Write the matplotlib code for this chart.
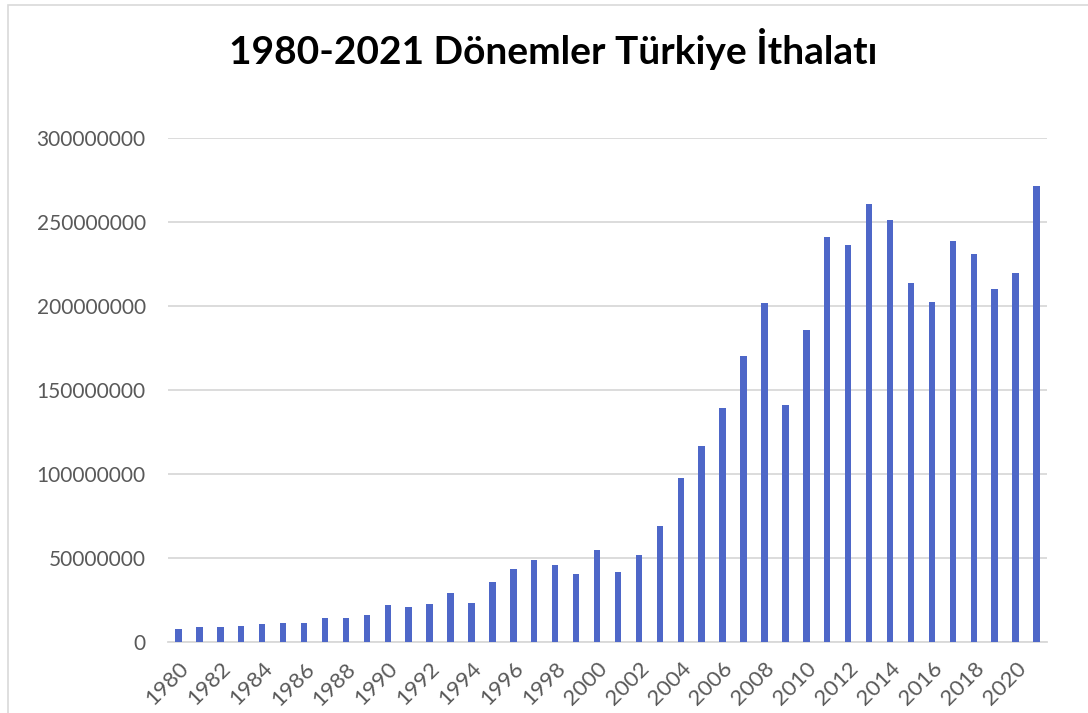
import matplotlib
matplotlib.use("Agg")
import matplotlib.pyplot as plt
from matplotlib.patches import Rectangle

years = list(range(1980, 2022))
imports = [
    7909364, 8933374, 8842665, 9235002, 10756923, 11343376, 11104771,
    14157760, 14335402, 15792143, 22302126, 21047014, 22871055, 29428370,
    23270019, 35709011, 43626642, 48558721, 45921392, 40671272, 54502821,
    41399083, 51553797, 69339692, 97539766, 116774151, 139576174, 170062715,
    201963574, 140928421, 185544332, 240841676, 236545141, 260822803,
    251142423, 213619196, 202189249, 238715128, 231152483, 210345205,
    219516588, 271425679,
]
y_ticks = [0, 50000000, 100000000, 150000000, 200000000, 250000000, 300000000]
title = "1980-2021 Dönemler Türkiye İthalatı"

W, H = 1088, 713
fig = plt.figure(figsize=(W / 100, H / 100), dpi=100)
fig.patch.set_facecolor("white")

# chart frame
fig.add_artist(Rectangle((8 / W, -0.1), 1.2, (H - 5) / H + 0.1, transform=fig.transFigure,
                         fill=False, edgecolor="#D9D9D9", linewidth=1.2))

left, right = 168 / W, 1047 / W
bottom, top = (H - 642) / H, (H - 138) / H
ax = fig.add_axes([left, bottom, right - left, top - bottom])

x = list(range(len(years)))
ax.bar(x, imports, width=0.31, color="#4E67C8", zorder=3)

ax.set_xlim(-0.5, len(years) - 0.5)
ax.set_ylim(0, 300000000)
ax.set_yticks(y_ticks)
ax.set_yticklabels([str(v) for v in y_ticks])
ax.yaxis.grid(True, color="#D9D9D9", linewidth=1.3, zorder=0)
ax.set_axisbelow(True)

tick_pos = [i for i, yv in enumerate(years) if yv % 2 == 0]
ax.set_xticks(tick_pos)
ax.set_xticklabels([str(years[i]) for i in tick_pos], rotation=45, ha="right",
                   va="top", rotation_mode="anchor")

for lab in ax.get_yticklabels():
    lab.set_fontfamily("Lato")
    lab.set_fontsize(15)
    lab.set_color("#595959")
for lab in ax.get_xticklabels():
    lab.set_fontfamily("Lato")
    lab.set_fontsize(16)
    lab.set_color("#595959")

ax.tick_params(axis="both", length=0)
ax.tick_params(axis="y", pad=16)
ax.tick_params(axis="x", pad=12)
for s in ["top", "right", "left"]:
    ax.spines[s].set_visible(False)
ax.spines["bottom"].set_color("#D9D9D9")
ax.spines["bottom"].set_linewidth(1.3)

fig.text(553 / W, 1 - 49 / H, title, ha="center", va="center",
         fontfamily="Lato", fontweight="bold", fontsize=28, color="black")

fig.savefig("out.png", dpi=100, facecolor="white")
